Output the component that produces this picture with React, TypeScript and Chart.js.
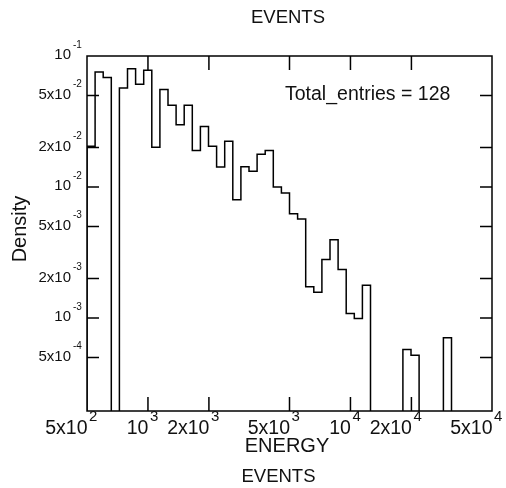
import React, { useEffect, useRef } from "react";
import { Chart, registerables } from "chart.js";

Chart.register(...registerables);

// ---- data ----
const X_MIN = 500;
const X_MAX = 50000;
const Y_MIN = 1.95e-4;
const Y_MAX = 0.1;
const N_BINS = 50;
const TOTAL_ENTRIES = 128;

// density per log-spaced bin (0 = empty bin)
const densities = [
  0.0205, 0.0755, 0.0684, 0, 0.057, 0.08, 0.0608, 0.0778, 0.0201, 0.0554,
  0.042, 0.0299, 0.042, 0.019, 0.029, 0.0205, 0.0142, 0.0223, 0.008, 0.0143,
  0.0132, 0.0178, 0.019, 0.01, 0.009, 0.00626, 0.0057, 0.00173, 0.00157, 0.0028,
  0.00396, 0.00235, 0.00108, 0.00099, 0.00178, 0, 0, 0, 0, 0.000574,
  0.000519, 0, 0, 0, 0.000708, 0, 0, 0, 0, 0,
];

const xTickValues = [500, 1000, 2000, 5000, 10000, 20000, 50000];
const xTickMantissa = ["5x10", "10", "2x10", "5x10", "10", "2x10", "5x10"];
const xTickExponent = ["2", "3", "3", "3", "4", "4", "4"];

const yTickValues = [0.1, 0.05, 0.02, 0.01, 0.005, 0.002, 0.001, 0.0005];
const yTickMantissa = ["10", "5x10", "2x10", "10", "5x10", "2x10", "10", "5x10"];
const yTickExponent = ["-1", "-2", "-2", "-2", "-3", "-3", "-3", "-4"];

const titleTop = "EVENTS";
const titleBottom = "EVENTS";
const xTitle = "ENERGY";
const yTitle = "Density";
const statsLabel = `Total_entries = ${TOTAL_ENTRIES}`;

const FONT = '"Liberation Sans", Arial, Helvetica, sans-serif';

export default function App() {
  const ref = useRef<HTMLCanvasElement | null>(null);

  useEffect(() => {
    document.body.style.margin = "0";
    const canvas = ref.current;
    if (!canvas) return;

    const edges = Array.from(
      { length: N_BINS + 1 },
      (_, i) => X_MIN * Math.pow(X_MAX / X_MIN, i / N_BINS)
    );
    const FLOOR = 1e-7;
    const pts: { x: number; y: number }[] = [];
    pts.push({ x: edges[0], y: FLOOR });
    densities.forEach((d, i) => pts.push({ x: edges[i], y: d > 0 ? d : FLOOR }));
    pts.push({ x: edges[N_BINS], y: FLOOR });

    const overlay = {
      id: "rootStyle",
      afterDraw(chart: any) {
        const { ctx, chartArea } = chart;
        const xs = chart.scales.x;
        const ys = chart.scales.y;
        const { left, right, top, bottom } = chartArea;
        ctx.save();
        ctx.strokeStyle = "#000";
        ctx.fillStyle = "#111";
        ctx.lineWidth = 1.5;
        // frame
        ctx.strokeRect(left, top, right - left, bottom - top);
        // inner ticks
        ctx.beginPath();
        xTickValues.forEach((v) => {
          if (v <= X_MIN || v >= X_MAX) return;
          const px = xs.getPixelForValue(v);
          ctx.moveTo(px, bottom);
          ctx.lineTo(px, bottom - 14);
          ctx.moveTo(px, top);
          ctx.lineTo(px, top + 14);
        });
        yTickValues.forEach((v) => {
          if (v <= Y_MIN || v >= Y_MAX) return;
          const py = ys.getPixelForValue(v);
          ctx.moveTo(left, py);
          ctx.lineTo(left + 12, py);
          ctx.moveTo(right, py);
          ctx.lineTo(right - 12, py);
        });
        ctx.stroke();

        // x tick labels
        xTickValues.forEach((v, i) => {
          const px = xs.getPixelForValue(v);
          ctx.textBaseline = "alphabetic";
          ctx.font = `19.5px ${FONT}`;
          ctx.textAlign = "right";
          ctx.fillText(xTickMantissa[i], px + 0.5, bottom + 23);
          ctx.font = `15px ${FONT}`;
          ctx.textAlign = "left";
          ctx.fillText(xTickExponent[i], px + 2, bottom + 9.5);
        });
        // y tick labels
        yTickValues.forEach((v, i) => {
          const py = ys.getPixelForValue(v);
          ctx.textBaseline = "middle";
          ctx.font = `15px ${FONT}`;
          ctx.textAlign = "right";
          ctx.fillText(yTickMantissa[i], left - 16, py - 1);
          ctx.font = `10px ${FONT}`;
          ctx.textAlign = "left";
          ctx.fillText(yTickExponent[i], left - 14, py - 11);
        });

        // titles
        ctx.textAlign = "center";
        ctx.textBaseline = "middle";
        ctx.font = `18.5px ${FONT}`;
        ctx.fillText(titleTop, 288, 18);
        ctx.fillText(titleBottom, 278.5, 477);
        ctx.font = `20px ${FONT}`;
        ctx.fillText(xTitle, 287, 446);
        ctx.save();
        ctx.translate(20, 229);
        ctx.rotate(-Math.PI / 2);
        ctx.fillText(yTitle, 0, 0);
        ctx.restore();

        // stats
        ctx.textAlign = "left";
        ctx.textBaseline = "alphabetic";
        ctx.font = `19.5px ${FONT}`;
        ctx.fillText(statsLabel, 285, 100);
        ctx.restore();
      },
    };

    const chart = new Chart(canvas, {
      type: "line",
      data: {
        datasets: [
          {
            data: pts,
            borderColor: "#000",
            borderWidth: 1.5,
            pointRadius: 0,
            stepped: true,
            tension: 0,
            fill: false,
          },
        ],
      },
      options: {
        animation: false,
        responsive: false,
        devicePixelRatio: 1,
        parsing: true,
        layout: { padding: { left: 87, right: 14, top: 56, bottom: 77 } },
        plugins: {
          legend: { display: false },
          title: { display: false },
          tooltip: { enabled: false },
        },
        scales: {
          x: { type: "logarithmic", min: X_MIN, max: X_MAX, display: false },
          y: { type: "logarithmic", min: Y_MIN, max: Y_MAX, display: false },
        },
      },
      plugins: [overlay],
    });

    return () => chart.destroy();
  }, []);

  return (
    <div style={{ width: 506, height: 488, background: "#fff" }}>
      <canvas ref={ref} width={506} height={488} />
    </div>
  );
}
